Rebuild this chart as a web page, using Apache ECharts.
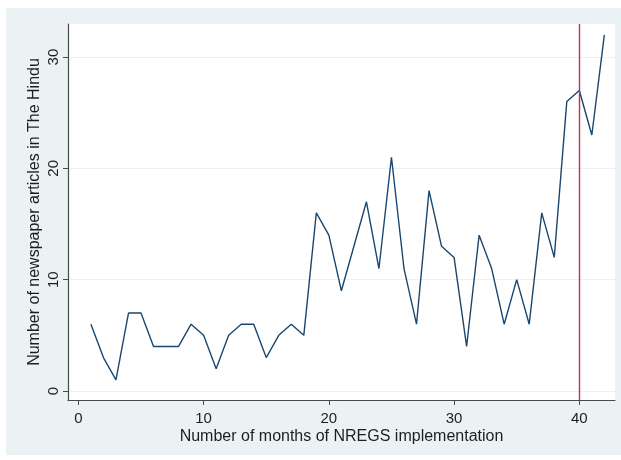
<!DOCTYPE html>
<html>
<head>
<meta charset="utf-8">
<script src="https://cdn.jsdelivr.net/npm/echarts@6/dist/echarts.min.js"></script>
<style>
  html, body { margin: 0; padding: 0; background: #ffffff; }
  #chart { width: 621px; height: 460px; }
</style>
</head>
<body>
<div id="chart"></div>
<script>
// Months since the start of NREGS implementation
const months = [1,2,3,4,5,6,7,8,9,10,11,12,13,14,15,16,17,18,19,20,21,
                22,23,24,25,26,27,28,29,30,31,32,33,34,35,36,37,38,39,40,41,42];
// Newspaper articles in The Hindu per month
const articles = [6,3,1,7,7,4,4,4,6,5,2,5,6,6,3,5,6,5,16,14,9,
                  13,17,11,21,11,6,18,13,12,4,14,11,6,10,6,16,12,26,27,23,32];
const xTicks = [0, 10, 20, 30, 40];
const yTicks = [0, 10, 20, 30];
const markMonth = 40;

const points = months.map((m, i) => [m, articles[i]]);

const chart = echarts.init(document.getElementById('chart'), null, { renderer: 'canvas' });
const textColor = '#1e1e1e';
const axisColor = '#4a4a4a';

chart.setOption({
  backgroundColor: '#ffffff',
  animation: false,
  graphic: [{
    type: 'rect',
    z: -10,
    silent: true,
    shape: { x: 6, y: 8, width: 615, height: 447 },
    style: { fill: '#eaf2f3' }
  }],
  grid: {
    left: 68, top: 24, right: 6, bottom: 60,
    show: true, backgroundColor: '#ffffff', borderWidth: 0
  },
  xAxis: {
    type: 'value',
    min: -0.83, max: 42.85,
    name: 'Number of months of NREGS implementation',
    nameLocation: 'middle',
    nameGap: 29,
    nameMoveOverlap: false,
    nameTextStyle: { fontFamily: 'Liberation Sans', fontSize: 16, color: textColor },
    axisLine: { show: true, onZero: false, lineStyle: { color: axisColor, width: 1.2 } },
    axisTick: { show: true, inside: false, length: 5, customValues: xTicks, lineStyle: { color: axisColor } },
    axisLabel: { customValues: xTicks, margin: 11, fontFamily: 'Liberation Sans', fontSize: 15, color: textColor },
    splitLine: { show: false }
  },
  yAxis: {
    type: 'value',
    min: -0.81, max: 32.97,
    name: 'Number of newspaper articles in The Hindu',
    nameLocation: 'middle',
    nameRotate: 90,
    nameGap: 25,
    nameMoveOverlap: false,
    nameTextStyle: { fontFamily: 'Liberation Sans', fontSize: 16, color: textColor },
    axisLine: { show: true, onZero: false, lineStyle: { color: axisColor, width: 1.2 } },
    axisTick: { show: true, inside: false, length: 5, customValues: yTicks, lineStyle: { color: axisColor } },
    axisLabel: { customValues: yTicks, rotate: 90, margin: 7, fontFamily: 'Liberation Sans', fontSize: 15, color: textColor },
    splitLine: { show: true, lineStyle: { color: '#eaf2f3', width: 1.2 } }
  },
  series: [{
    type: 'line',
    data: points,
    showSymbol: false,
    symbol: 'none',
    lineStyle: { color: '#1a476f', width: 1.4 },
    markLine: {
      silent: true,
      symbol: 'none',
      label: { show: false },
      lineStyle: { color: '#b8355b', width: 1.4, type: 'solid' },
      data: [{ xAxis: markMonth }]
    }
  }]
});
</script>
</body>
</html>
